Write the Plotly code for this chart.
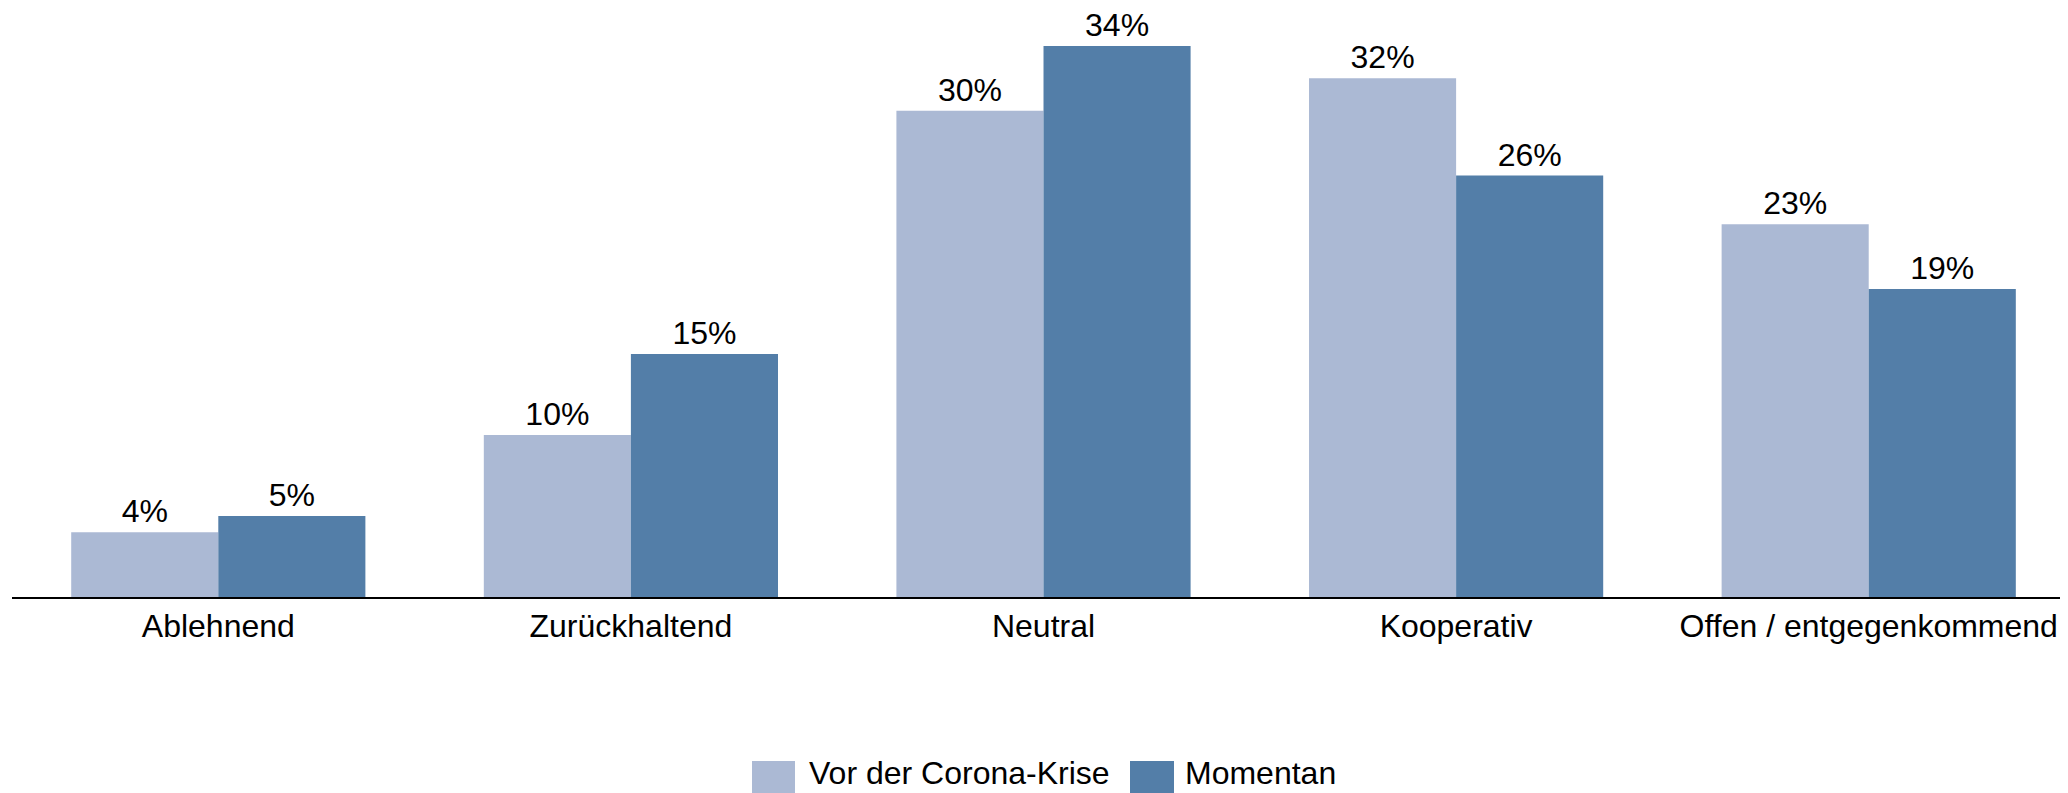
import plotly.graph_objects as go

categories = ["Ablehnend", "Zurückhaltend", "Neutral", "Kooperativ", "Offen / entgegenkommend"]
series_names = ["Vor der Corona-Krise", "Momentan"]
vor_values = [4, 10, 30, 32, 23]
momentan_values = [5, 15, 34, 26, 19]
colors = ["#ABB9D4", "#537EA8"]

OFF = 8  # default page body margin
W, H = 2068 - OFF, 793 - OFF
ML, MR, MT, MB = 12 - OFF, 0, 20 - OFF, 196
FONT = "Liberation Sans, Arial, sans-serif"
FS = 32

fig = go.Figure()
for name, vals, col in zip(series_names, [vor_values, momentan_values], colors):
    fig.add_trace(go.Bar(
        x=categories, y=vals, name=name, marker=dict(color=col, line=dict(width=0)),
        text=[f"{v}%" for v in vals], textposition="outside",
        textfont=dict(family=FONT, size=FS, color="#000000"),
        cliponaxis=False, showlegend=False,
    ))

pw = W - ML - MR
ph = H - MT - MB

def px_x(p):
    return (p - OFF - ML) / pw

def px_y(p):
    return (H - MB - (p - OFF)) / ph

# custom legend (large swatches as in the reference)
legend_items = [(752, 795, 808, series_names[0], colors[0]),
                (1130, 1174, 1184, series_names[1], colors[1])]
for x0, x1, tx, label, col in legend_items:
    fig.add_shape(type="rect", xref="paper", yref="paper",
                  x0=px_x(x0), x1=px_x(x1), y0=px_y(761), y1=px_y(800),
                  fillcolor=col, line=dict(width=0))
    fig.add_annotation(xref="paper", yref="paper", x=px_x(tx), y=px_y(773),
                       text=label, showarrow=False, xanchor="left", yanchor="middle",
                       borderpad=0,
                       font=dict(family=FONT, size=FS, color="#000000"))

fig.update_layout(
    width=W, height=H,
    margin=dict(l=ML, r=MR, t=MT, b=MB),
    paper_bgcolor="white", plot_bgcolor="white",
    barmode="group", bargap=0.287, bargroupgap=0,
    font=dict(family=FONT, size=FS, color="#000000"),
    showlegend=False,
    xaxis=dict(range=[-0.5, 4.483], showline=True, linecolor="#000000", linewidth=2,
               ticks="", showgrid=False, zeroline=False,
               tickfont=dict(family=FONT, size=FS, color="#000000")),
    yaxis=dict(range=[0, 35.6], visible=False, showgrid=False, zeroline=False),
)

fig.write_html("out.html")
